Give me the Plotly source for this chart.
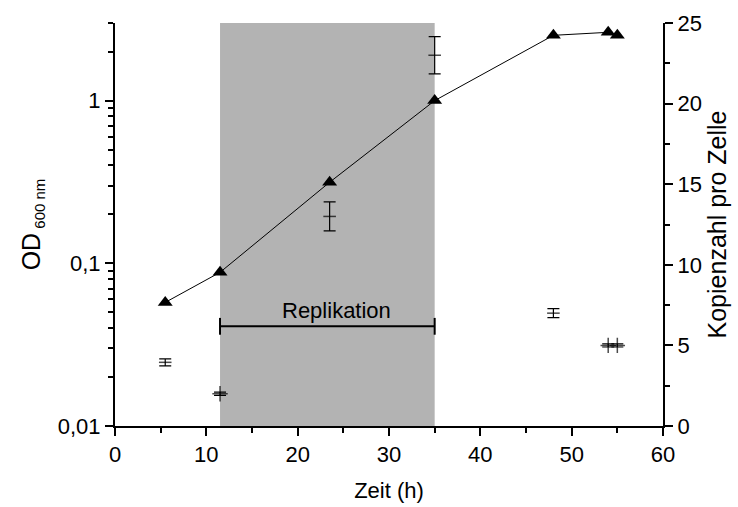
import plotly.graph_objects as go
import math

# OD600 growth curve (left, log axis)
od_time = [5.5, 11.5, 23.5, 35.0, 48.0, 54.0, 55.0]
od_value = [0.0575, 0.088, 0.315, 1.0, 2.52, 2.63, 2.52]

# Copy number per cell (right axis) with error bars
copy_time = [5.5, 11.5, 23.5, 35.0, 48.0, 54.0, 55.0]
copy_value = [3.95, 2.0, 13.0, 23.0, 7.0, 5.0, 5.0]
copy_err = [0.22, 0.1, 0.9, 1.15, 0.28, 0.1, 0.1]

# Replication phase
rep_start, rep_end = 11.5, 35.0
rep_level = 0.041
rep_label = "Replikation"
rep_label_x = 24.3
rep_label_y = 0.051

x_ticks = [0, 10, 20, 30, 40, 50, 60]
y_left_ticks = [0.01, 0.1, 1]
y_left_labels = ["0,01", "0,1", "1"]
y_right_ticks = [0, 5, 10, 15, 20, 25]

FONT = "Liberation Sans, Arial, sans-serif"

fig = go.Figure()

fig.add_shape(type="rect", xref="x", yref="paper", x0=rep_start, x1=rep_end,
              y0=0, y1=1, fillcolor="#b3b3b3", line=dict(width=0), layer="below")

fig.add_trace(go.Scatter(
    x=od_time, y=od_value, mode="lines+markers",
    line=dict(color="black", width=1),
    marker=dict(symbol="triangle-up", size=13, color="black"),
    yaxis="y", showlegend=False))

small = [e < 0.15 for e in copy_err]
fig.add_trace(go.Scatter(
    x=copy_time, y=copy_value, mode="markers",
    marker=dict(symbol=["cross-thin" if s else "line-ew" for s in small],
                size=[11 if s else 9 for s in small], color="black",
                line=dict(width=1.5, color="black")),
    error_y=dict(type="data", array=copy_err, visible=True, color="black",
                 thickness=1.2, width=6),
    yaxis="y2", showlegend=False))

# replication bracket
fig.add_trace(go.Scatter(
    x=[rep_start, rep_end], y=[rep_level, rep_level], mode="lines+markers",
    line=dict(color="black", width=2),
    marker=dict(symbol="line-ns", size=12, color="black",
                line=dict(width=2, color="black")),
    yaxis="y", showlegend=False))

fig.add_annotation(x=rep_label_x, y=math.log10(rep_label_y), xref="x", yref="y",
                   text=rep_label, showarrow=False,
                   font=dict(size=22, color="black", family=FONT))

axis_common = dict(showline=True, linecolor="black", linewidth=2, ticks="outside",
                   tickcolor="black", tickwidth=2, ticklen=8, showgrid=False,
                   zeroline=False, automargin=False,
                   tickfont=dict(size=22, color="black", family=FONT))

fig.update_layout(
    width=738, height=507,
    margin=dict(l=115, r=75, t=23, b=81),
    plot_bgcolor="white", paper_bgcolor="white",
    font=dict(family=FONT, color="black"),
    xaxis=dict(range=[0, 60], tickvals=x_ticks,
               minor=dict(dtick=5, ticks="outside", ticklen=5, tickwidth=2, tickcolor="black"),
               title=dict(text="Zeit (h)", font=dict(size=22, family=FONT), standoff=16),
               **axis_common),
    xaxis2=dict(range=[0, 60], overlaying="x", side="top", showline=True,
                linecolor="black", linewidth=2, ticks="inside", ticklen=4,
                tickwidth=1.5, tickcolor="black", dtick=5, tick0=0, automargin=False,
                showticklabels=False, showgrid=False, zeroline=False),
    yaxis=dict(type="log", range=[-2, math.log10(3)], tickvals=y_left_ticks,
               ticktext=y_left_labels,
               minor=dict(ticks="outside", ticklen=5, tickwidth=2, tickcolor="black",
                          tickvals=[0.02, 0.03, 0.04, 0.05, 0.06, 0.07, 0.08, 0.09,
                                    0.2, 0.3, 0.4, 0.5, 0.6, 0.7, 0.8, 0.9, 2, 3]),
               title=dict(text="OD<sub><span style='font-size:15px'> 600 nm</span></sub>",
                          font=dict(size=25, family=FONT), standoff=10),
               **axis_common),
    yaxis2=dict(range=[0, 25], tickvals=y_right_ticks, overlaying="y", side="right",
                minor=dict(dtick=2.5, ticks="outside", ticklen=5, tickwidth=2, tickcolor="black"),
                title=dict(text="Kopienzahl pro Zelle", font=dict(size=25, family=FONT), standoff=8),
                **axis_common),
)

fig.write_html("out.html")
